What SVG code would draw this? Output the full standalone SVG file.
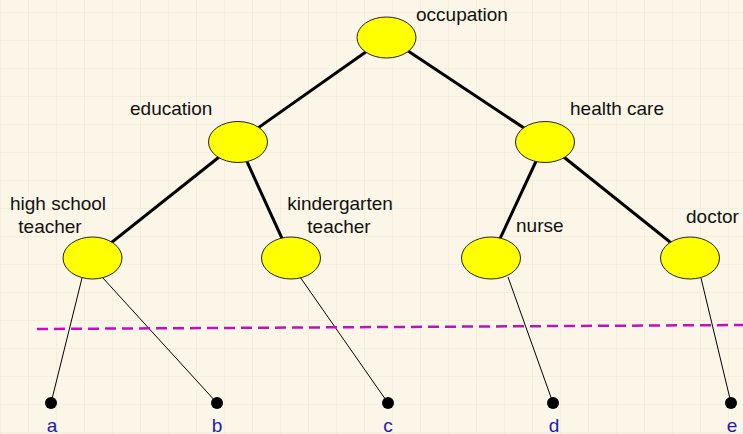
<svg xmlns="http://www.w3.org/2000/svg" width="743" height="434" viewBox="0 0 743 434">
<style>
.lbl{font-family:"Liberation Sans",Arial,sans-serif;font-size:19px;fill:#111}
.leaf{font-family:"Liberation Sans",Arial,sans-serif;font-size:19px;fill:#1a1ab4;text-anchor:middle}
.node{fill:#ffff00;stroke:#222;stroke-width:1}
.thick{stroke:#000;stroke-width:3;fill:none}
.thin{stroke:#000;stroke-width:1;fill:none}
.dot{fill:#000}
</style>
<defs>
<pattern id="grid" width="28" height="28" patternUnits="userSpaceOnUse" x="0" y="12">
<path d="M0 0H28M0 0V28" stroke="#ede6d2" stroke-width="1" fill="none"/>
</pattern>
</defs>
<rect width="743" height="434" fill="#fbf6e7"/>
<rect width="743" height="434" fill="url(#grid)"/>
<g id="connectors">
<line class="thick" x1="387" y1="37" x2="238" y2="142"/>
<line class="thick" x1="387" y1="37" x2="545" y2="142"/>
<line class="thick" x1="238" y1="142" x2="92" y2="258"/>
<line class="thick" x1="238" y1="142" x2="291" y2="258"/>
<line class="thick" x1="545" y1="142" x2="491" y2="258"/>
<line class="thick" x1="545" y1="142" x2="690" y2="258"/>
<line class="thin" x1="82" y1="278" x2="51" y2="403"/>
<line class="thin" x1="102" y1="277" x2="217" y2="403"/>
<line class="thin" x1="300" y1="277" x2="388" y2="403"/>
<line class="thin" x1="508" y1="277" x2="553" y2="403"/>
<line class="thin" x1="701" y1="278" x2="731" y2="403"/>
</g>
<line id="cut" x1="37" y1="329" x2="743" y2="325" stroke="#c010c0" stroke-width="2.5" stroke-dasharray="11,6"/>
<g id="occupation"><ellipse class="node" cx="386.5" cy="37.5" rx="29.5" ry="20.5"/><text class="lbl" x="416" y="21">occupation</text></g>
<g id="education"><ellipse class="node" cx="238" cy="142" rx="29.5" ry="20.5"/><text class="lbl" x="130" y="115">education</text></g>
<g id="healthcare"><ellipse class="node" cx="545" cy="142" rx="29.5" ry="20.5"/><text class="lbl" x="570" y="115">health care</text></g>
<g id="highschool"><ellipse class="node" cx="92.5" cy="258" rx="29.5" ry="21"/><text class="lbl" x="58" y="210" text-anchor="middle">high school</text><text class="lbl" x="50" y="233" text-anchor="middle">teacher</text></g>
<g id="kindergarten"><ellipse class="node" cx="291" cy="258" rx="29.5" ry="21"/><text class="lbl" x="340" y="210" text-anchor="middle">kindergarten</text><text class="lbl" x="339" y="233" text-anchor="middle">teacher</text></g>
<g id="nurse"><ellipse class="node" cx="491" cy="258" rx="29.5" ry="21"/><text class="lbl" x="516" y="232">nurse</text></g>
<g id="doctor"><ellipse class="node" cx="690" cy="258" rx="29.5" ry="21"/><text class="lbl" x="686" y="223">doctor</text></g>
<g id="leaf-a"><circle class="dot" cx="51" cy="403" r="6"/><text class="leaf" x="52" y="432">a</text></g>
<g id="leaf-b"><circle class="dot" cx="217" cy="403" r="6"/><text class="leaf" x="217" y="432">b</text></g>
<g id="leaf-c"><circle class="dot" cx="388" cy="403" r="6"/><text class="leaf" x="388" y="432">c</text></g>
<g id="leaf-d"><circle class="dot" cx="553" cy="403" r="6"/><text class="leaf" x="554" y="432">d</text></g>
<g id="leaf-e"><circle class="dot" cx="731" cy="403" r="6"/><text class="leaf" x="732" y="432">e</text></g>
</svg>
